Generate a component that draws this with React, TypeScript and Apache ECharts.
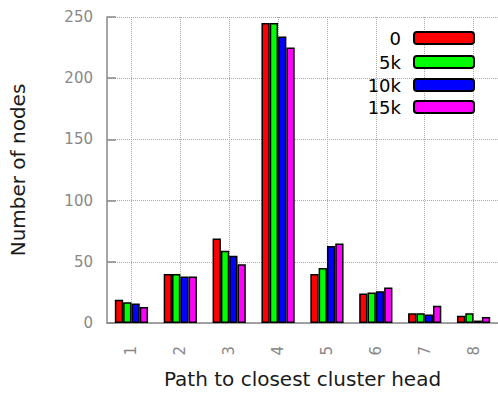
import React, { useEffect, useRef } from "react";
import * as echarts from "echarts";

const categories = ["1", "2", "3", "4", "5", "6", "7", "8"];
const seriesNames = ["0", "5k", "10k", "15k"];
const seriesColors = ["#ff0000", "#00ff00", "#0000ff", "#ff00ff"];
const values0 = [19, 40, 69, 245, 40, 24, 8, 6];
const values5k = [17, 40, 59, 245, 45, 25, 8, 8];
const values10k = [16, 38, 55, 234, 63, 26, 7, 2];
const values15k = [13, 38, 48, 225, 65, 29, 14, 5];
const yTicks = { min: 0, max: 250, interval: 50 };

export default function App() {
  const ref = useRef<HTMLDivElement>(null);
  useEffect(() => {
    document.body.style.margin = "0";
    const chart = echarts.init(ref.current!, undefined, { renderer: "svg" });
    const all = [values0, values5k, values10k, values15k];
    const font = "DejaVu Sans";
    const legendTops = [29, 53, 76, 98];
    chart.setOption({
      animation: false,
      textStyle: { fontFamily: font },
      grid: { left: 107, top: 17, width: 392, height: 308, containLabel: false },
      legend: seriesNames.map((n, i) => ({
        data: [n],
        orient: "vertical",
        align: "right",
        right: 23,
        top: legendTops[i],
        itemWidth: 60,
        itemHeight: 12,
        padding: 0,
        textStyle: { fontSize: 18, color: "#000", fontFamily: font, padding: [0, 8, 0, 0] },
        selectedMode: false,
      })),
      xAxis: {
        type: "category",
        data: categories,
        name: "Path to closest cluster head",
        nameLocation: "middle",
        nameGap: 46,
        nameTextStyle: { fontSize: 20, color: "#1a1a1a", fontFamily: font },
        axisLine: { lineStyle: { color: "#888", width: 1.5 } },
        axisTick: { alignWithLabel: true, length: 8, lineStyle: { color: "#888", width: 1.5 } },
        axisLabel: { rotate: 90, margin: 23, fontSize: 15, color: "#888", fontFamily: font },
        splitLine: {
          show: true,
          alignWithLabel: true,
          lineStyle: { color: "#aaa", type: "dotted", width: 1 },
        },
      },
      yAxis: {
        type: "value",
        min: yTicks.min,
        max: yTicks.max,
        interval: yTicks.interval,
        name: "Number of nodes",
        nameLocation: "middle",
        nameGap: 79,
        nameTextStyle: { fontSize: 20, color: "#1a1a1a", fontFamily: font },
        axisLine: { show: true, lineStyle: { color: "#888", width: 1.5 } },
        axisTick: { show: true, inside: true, length: 9, lineStyle: { color: "#888", width: 1.5 } },
        axisLabel: { margin: 14, fontSize: 15, color: "#888", fontFamily: font },
        splitLine: { show: true, lineStyle: { color: "#aaa", type: "dotted", width: 1 } },
      },
      series: seriesNames.map((n, i) => ({
        name: n,
        type: "bar",
        data: all[i],
        barGap: "0%",
        barCategoryGap: "32%",
        itemStyle: { color: seriesColors[i], borderColor: "#000", borderWidth: 1.5 },
      })),
    });
    return () => chart.dispose();
  }, []);
  return <div ref={ref} style={{ width: 498, height: 394 }} />;
}
